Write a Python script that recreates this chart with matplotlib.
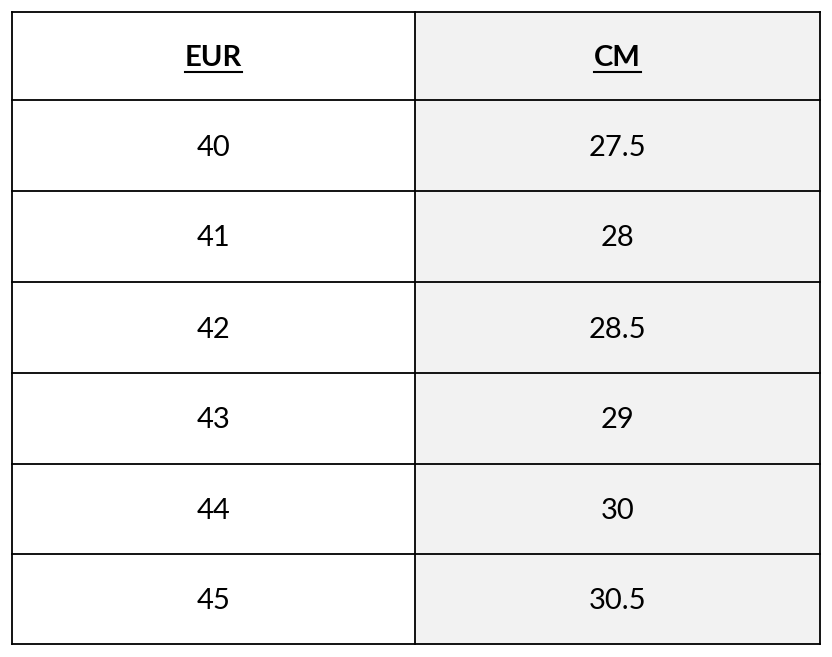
import matplotlib
matplotlib.use("Agg")
import matplotlib.pyplot as plt
from matplotlib.patches import Rectangle

headers = ["EUR", "CM"]
eur = ["40", "41", "42", "43", "44", "45"]
cm = ["27.5", "28", "28.5", "29", "30", "30.5"]

W, H = 832, 657
fig = plt.figure(figsize=(W/100, H/100), dpi=100)
ax = fig.add_axes([0, 0, 1, 1])
ax.set_xlim(0, W); ax.set_ylim(H, 0); ax.axis("off")

x0, xm, x1 = 12, 415, 820
ys = [12, 100, 191, 282, 373, 464, 554, 644]
ax.add_patch(Rectangle((xm, ys[0]), x1-xm, ys[-1]-ys[0], facecolor="#f2f2f2", edgecolor="none"))
for y in ys:
    ax.plot([x0, x1], [y, y], color="black", lw=1.3)
for x in (x0, xm, x1):
    ax.plot([x, x], [ys[0], ys[-1]], color="black", lw=1.3)

font = ["Lato", "DejaVu Sans"]
cx = [(x0+xm)/2, (xm+x1)/2]
for i, h in enumerate(headers):
    yc = (ys[0]+ys[1])/2 + 2
    t = ax.text(cx[i], yc, h, ha="center", va="center", fontsize=21, fontweight="bold", family=font)
    fig.canvas.draw()
    bb = t.get_window_extent()
    ax.plot([bb.x0, bb.x1], [yc+14, yc+14], color="black", lw=1.5)
for r in range(len(eur)):
    yc = (ys[r+1]+ys[r+2])/2 + 2
    ax.text(cx[0], yc, eur[r], ha="center", va="center", fontsize=21, family=font)
    ax.text(cx[1], yc, cm[r], ha="center", va="center", fontsize=21, family=font)

fig.savefig("out.png", dpi=100)
